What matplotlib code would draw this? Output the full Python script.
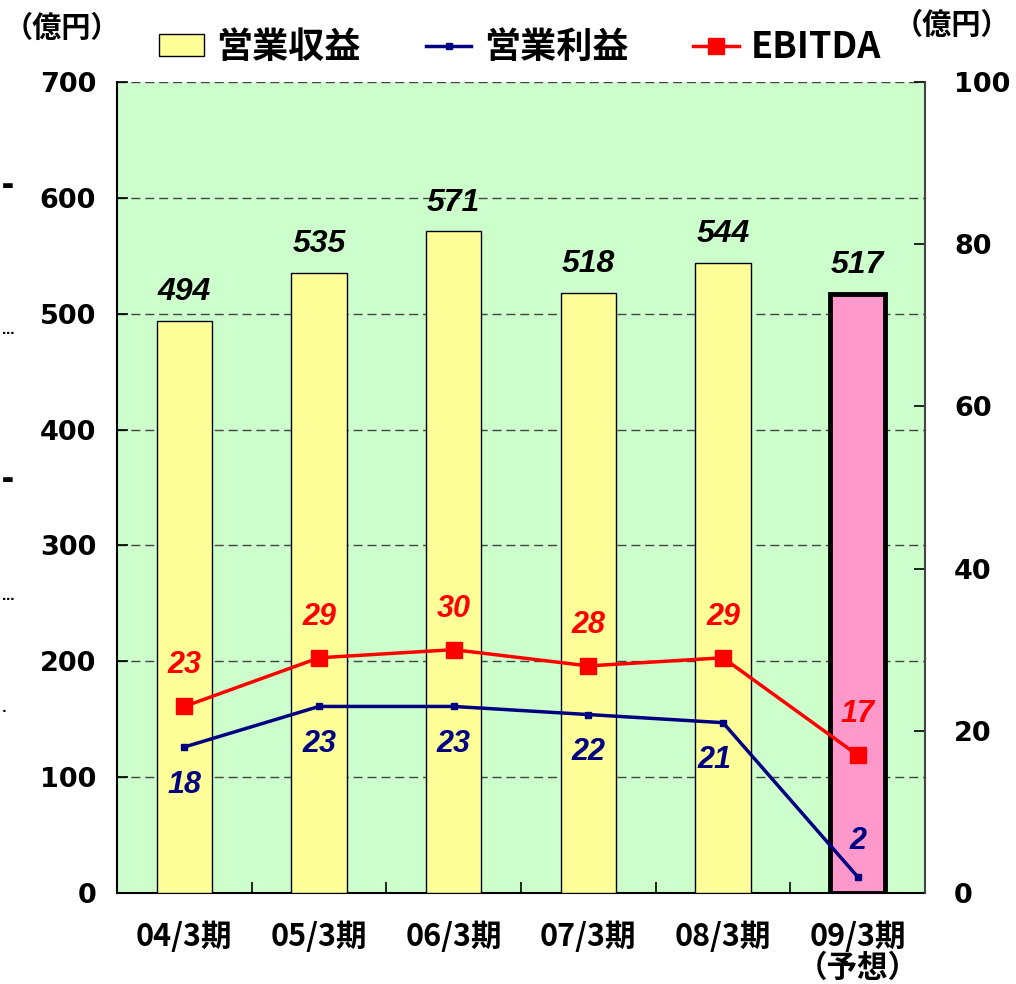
import matplotlib
matplotlib.use("Agg")
import matplotlib.pyplot as plt
import numpy as np
from matplotlib.lines import Line2D
from matplotlib.patches import Patch

plt.rcParams['font.family'] = ['Noto Sans CJK JP', 'DejaVu Sans']

categories = ['04/3期', '05/3期', '06/3期', '07/3期', '08/3期', '09/3期\n（予想）']
revenue = [494, 535, 571, 518, 544, 517]          # 営業収益
op_profit = [18, 23, 23, 22, 21, 2]               # 営業利益
ebitda = [23, 29, 30, 28, 29, 17]                 # EBITDA

bar_colors = ['#FFFF99'] * 5 + ['#FF99CC']
num_font = 'Liberation Sans'

fig = plt.figure(figsize=(10.16, 9.84), dpi=100)
ax = fig.add_axes([0.1152, 0.0925, 0.7952, 0.8242])
ax.set_facecolor('#CCFFCC')

x = np.arange(len(categories))
bars = ax.bar(x, revenue, width=0.41, color=bar_colors, edgecolor='black', linewidth=1, zorder=3)
bars[-1].set_linewidth(3.5)

ax.set_xlim(-0.5, len(categories) - 0.5)
ax.set_ylim(0, 700)
ax.set_yticks(range(0, 701, 100))
ax.yaxis.grid(True, linestyle=(0, (6.5, 3.5)), color='#444444', linewidth=1)
ax.set_axisbelow(True)
ax.set_xticks(x)
ax.set_xticklabels(categories, fontsize=22, fontweight='bold', linespacing=0.95)
ax.set_xticks(np.arange(-0.5, len(categories), 1), minor=True)
ax.tick_params(axis='x', which='major', length=0, pad=20)
ax.tick_params(axis='x', which='minor', direction='in', length=8, width=1.2)
ax.tick_params(axis='y', direction='in', length=8, width=1.2, pad=15)
for t in ax.get_yticklabels():
    t.set_fontweight('bold')
    t.set_family('DejaVu Sans')
    t.set_fontsize(19.5)
ax.spines['top'].set_visible(False)
ax.spines['left'].set_linewidth(1.5)
ax.spines['bottom'].set_linewidth(1.5)
ax.spines['right'].set_visible(False)

for xi, v in zip(x, revenue):
    ax.text(xi, v + 12, str(v), ha='center', va='bottom', fontsize=23,
            fontweight='bold', style='italic', family=num_font, zorder=5)

ax2 = ax.twinx()
ax2.set_ylim(0, 100)
ax2.set_yticks(range(0, 101, 20))
ax2.tick_params(axis='y', direction='in', length=8, width=1.2, pad=21)
for t in ax2.get_yticklabels():
    t.set_fontweight('bold')
    t.set_family('DejaVu Sans')
    t.set_fontsize(19.5)
for s in ['top', 'left', 'bottom']:
    ax2.spines[s].set_visible(False)
ax2.spines['right'].set_color('#444444')
ax2.spines['right'].set_linewidth(1.5)

ax2.plot(x, ebitda, color='#FF0000', linewidth=2.5, marker='s', markersize=12, zorder=4)
ax2.plot(x, op_profit, color='#000080', linewidth=2.5, marker='s', markersize=5, zorder=4)

lab = dict(fontsize=22, fontweight='bold', style='italic', family=num_font)
for i, (e, o) in enumerate(zip(ebitda, op_profit)):
    ax2.text(x[i], e + 3.2, str(e), ha='center', va='bottom', color='#FF0000', **lab)
    if i == len(ebitda) - 1:
        ax2.text(x[i], o + 2.6, str(o), ha='center', va='bottom', color='#000080', **lab)
    else:
        ax2.text(x[i] - (0.06 if i == 4 else 0), o - 2.8, str(o), ha='center', va='top',
                 color='#000080', **lab)

handles = [Patch(facecolor='#FFFF99', edgecolor='black', linewidth=1),
           Line2D([], [], color='#000080', linewidth=2.5, marker='s', markersize=5),
           Line2D([], [], color='#FF0000', linewidth=2.5, marker='s', markersize=12)]
fig.legend(handles, ['営業収益', '営業利益', 'EBITDA'], loc='center',
           bbox_to_anchor=(0.512, 0.952), ncol=3, frameon=False,
           prop={'size': 26, 'weight': 'bold'}, handlelength=1.25,
           handleheight=0.6, columnspacing=1.8, handletextpad=0.35)

fig.text(0.004, 0.972, '（億円）', fontsize=21, fontweight='bold', ha='left', va='center')
fig.text(0.880, 0.975, '（億円）', fontsize=21, fontweight='bold', ha='left', va='center')

# stray marks at the left edge
for yy, s in [(185, '▬'), (330, '…'), (480, '▬'), (597, '…'), (712, '·')]:
    fig.text(0.002, 1 - yy / 984, s, fontsize=9, fontweight='bold', ha='left', va='center',
             family='DejaVu Sans')

fig.savefig('out.png', dpi=100)
